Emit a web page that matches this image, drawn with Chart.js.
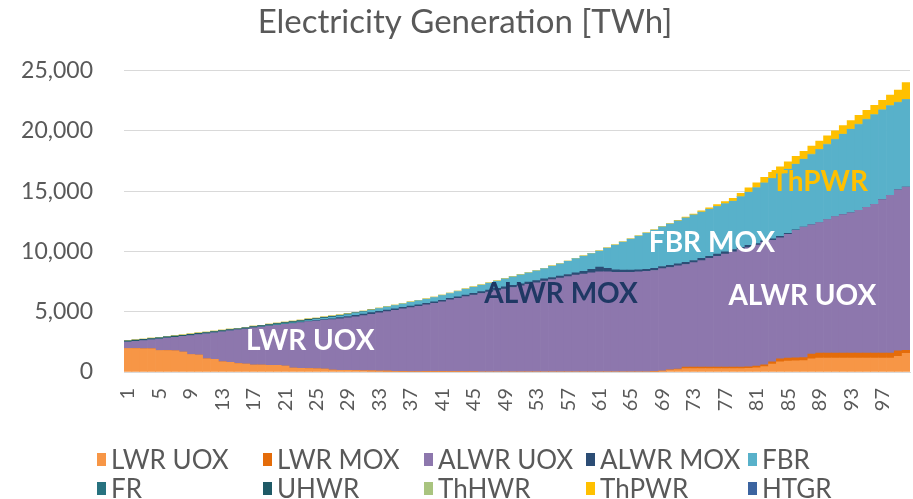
<!DOCTYPE html>
<html>
<head>
<meta charset="utf-8">
<title>Electricity Generation [TWh]</title>
<script src="https://cdn.jsdelivr.net/npm/chart.js@4.4.1/dist/chart.umd.min.js"></script>
<style>
    html, body { margin: 0; padding: 0; background: #fff; }
    #wrap { position: relative; width: 913px; height: 499px; }
    #legend { position: absolute; left: 0; top: 0; width: 913px; height: 499px; pointer-events: none;
              font-family: Lato, sans-serif; font-size: 26px; color: #595959; }
    .item { position: absolute; display: flex; align-items: center; white-space: nowrap; height: 30px; line-height: 30px; }
    .box { width: 9px; height: 13px; margin-right: 5px; }
</style>
</head>
<body>
<div id="wrap">
    <canvas id="genChart" width="913" height="499"></canvas>
    <div id="legend"></div>
</div>
<script>
// categories (years of the scenario)
var years = [
    '1', '2', '3', '4', '5', '6', '7', '8', '9', '10',
    '11', '12', '13', '14', '15', '16', '17', '18', '19', '20',
    '21', '22', '23', '24', '25', '26', '27', '28', '29', '30',
    '31', '32', '33', '34', '35', '36', '37', '38', '39', '40',
    '41', '42', '43', '44', '45', '46', '47', '48', '49', '50',
    '51', '52', '53', '54', '55', '56', '57', '58', '59', '60',
    '61', '62', '63', '64', '65', '66', '67', '68', '69', '70',
    '71', '72', '73', '74', '75', '76', '77', '78', '79', '80',
    '81', '82', '83', '84', '85', '86', '87', '88', '89', '90',
    '91', '92', '93', '94', '95', '96', '97', '98', '99', '100'
];

var yTicks = [0, 5000, 10000, 15000, 20000, 25000];

// generation per reactor type [TWh]
var lwrUox = [
    1950, 1940, 1930, 1920, 1780, 1770, 1760, 1650, 1450, 1400,
    1100, 1050, 850, 800, 700, 650, 580, 570, 560, 550,
    500, 320, 300, 280, 260, 240, 150, 140, 130, 120,
    100, 90, 80, 70, 60, 50, 45, 40, 35, 30,
    25, 20, 15, 10, 5, 0, 0, 0, 0, 0,
    0, 0, 0, 0, 0, 0, 0, 0, 0, 0,
    0, 0, 0, 0, 0, 0, 0, 20, 80, 150,
    200, 280, 280, 280, 280, 280, 280, 280, 280, 300,
    350, 450, 650, 850, 900, 920, 940, 1100, 1150, 1150,
    1150, 1150, 1150, 1150, 1150, 1150, 1150, 1150, 1300, 1550
];
var lwrMox = [
    0, 0, 0, 0, 0, 0, 0, 0, 0, 0,
    0, 0, 0, 0, 0, 0, 0, 0, 0, 0,
    0, 0, 0, 0, 0, 0, 0, 0, 0, 0,
    0, 0, 0, 0, 0, 0, 0, 0, 0, 0,
    0, 0, 0, 0, 0, 0, 0, 0, 0, 0,
    0, 0, 0, 0, 0, 0, 0, 0, 0, 0,
    0, 0, 0, 0, 0, 0, 0, 0, 0, 20,
    50, 120, 120, 120, 120, 120, 120, 120, 120, 130,
    150, 150, 200, 250, 250, 250, 250, 380, 420, 420,
    420, 420, 420, 420, 420, 420, 420, 420, 450, 240
];
var alwrUox = [
    530, 605, 670, 750, 960, 1040, 1120, 1300, 1570, 1700,
    2070, 2200, 2480, 2610, 2790, 2920, 3080, 3150, 3240, 3320,
    3450, 3700, 3800, 3900, 3970, 4060, 4200, 4280, 4360, 4460,
    4580, 4700, 4830, 4940, 5060, 5180, 5300, 5410, 5530, 5660,
    5800, 5960, 6100, 6240, 6380, 6510, 6630, 6750, 6880, 7010,
    7140, 7270, 7400, 7540, 7660, 7780, 7910, 8040, 8130, 8220,
    8300, 8300, 8260, 8270, 8270, 8300, 8340, 8400, 8490, 8500,
    8550, 8520, 8670, 8840, 9020, 9200, 9380, 9570, 9770, 9890,
    10030, 10150, 10080, 10030, 10270, 10580, 10840, 10720, 10830, 11080,
    11330, 11480, 11630, 11830, 12080, 12330, 12730, 13080, 13350, 13550
];
var alwrMox = [
    0, 0, 0, 0, 0, 0, 0, 0, 0, 0,
    0, 0, 0, 0, 0, 0, 0, 0, 0, 0,
    0, 0, 0, 0, 30, 50, 70, 90, 110, 130,
    130, 130, 130, 130, 130, 130, 130, 130, 130, 130,
    130, 130, 130, 140, 150, 160, 170, 180, 180, 180,
    180, 180, 180, 180, 180, 180, 180, 180, 230, 300,
    400, 300, 220, 180, 180, 180, 180, 180, 180, 180,
    180, 180, 180, 180, 180, 180, 180, 180, 180, 180,
    120, 120, 120, 120, 80, 50, 0, 0, 0, 0,
    0, 0, 0, 0, 0, 0, 0, 0, 0, 0
];
var fbr = [
    0, 0, 0, 0, 0, 0, 0, 0, 0, 0,
    0, 0, 0, 0, 0, 0, 0, 20, 30, 40,
    50, 60, 70, 85, 100, 115, 130, 145, 160, 175,
    190, 205, 220, 240, 260, 280, 300, 320, 340, 360,
    380, 400, 430, 460, 490, 520, 560, 600, 640, 680,
    720, 760, 800, 840, 920, 1000, 1080, 1160, 1230, 1280,
    1310, 1660, 2030, 2310, 2560, 2780, 2990, 3160, 3270, 3410,
    3530, 3660, 3760, 3830, 3890, 3940, 3980, 4000, 4170, 4400,
    4620, 4790, 4990, 5180, 5310, 5420, 5600, 5840, 6050, 6220,
    6380, 6660, 6920, 7130, 7290, 7440, 7430, 7430, 7250, 7250
];
var fr = [];
var uhwr = [
    100, 100, 100, 100, 100, 100, 100, 100, 100, 100,
    100, 100, 100, 100, 100, 100, 100, 100, 100, 100,
    100, 100, 100, 100, 80, 70, 60, 50, 40, 30,
    20, 10
];
var thhwr = [
    20, 25, 40, 40, 40, 40, 40, 40, 40, 40,
    40, 40, 40, 40, 40, 40, 40, 40, 40, 40,
    40, 40, 40, 40, 40, 40, 40, 40, 40, 40,
    40, 40, 40, 40, 40, 40, 40, 40, 40, 40,
    40, 40, 40, 40, 40, 40, 40, 40, 40, 40,
    40, 40, 40, 40, 40, 40, 40, 40, 40, 40,
    40, 40, 40, 40, 40, 40, 40, 40, 40, 30,
    30, 30, 30, 30, 30, 30, 30, 30, 30, 30,
    30, 30, 30, 30, 30, 30, 30, 30, 30, 30,
    30, 30, 30, 30, 30, 30, 30, 30, 30, 30
];
var thpwr = [
    0, 0, 0, 0, 0, 0, 0, 0, 0, 0,
    0, 0, 0, 0, 0, 0, 0, 0, 0, 0,
    0, 0, 0, 0, 0, 0, 0, 0, 0, 0,
    0, 0, 0, 0, 0, 0, 0, 0, 0, 0,
    0, 0, 0, 0, 0, 0, 0, 0, 0, 0,
    0, 0, 0, 0, 0, 0, 0, 0, 0, 0,
    0, 0, 0, 0, 0, 0, 0, 0, 0, 30,
    40, 50, 60, 80, 100, 130, 170, 220, 280, 340,
    400, 450, 500, 550, 600, 630, 650, 670, 680, 690,
    700, 700, 710, 720, 730, 750, 780, 850, 1000, 1380
];
var htgr = [];

var seriesNames = ['LWR UOX', 'LWR MOX', 'ALWR UOX', 'ALWR MOX', 'FBR', 'FR', 'UHWR', 'ThHWR', 'ThPWR', 'HTGR'];
var seriesData = [lwrUox, lwrMox, alwrUox, alwrMox, fbr, fr, uhwr, thhwr, thpwr, htgr];
var seriesColors = ['#F79646', '#E46C0A', '#8D77AD', '#2C4D75', '#58B1CA', '#27727F', '#1F5A66', '#A9C47F', '#FFC000', '#3C64A0'];

// text written over the areas
var areaLabels = ['LWR UOX', 'ALWR MOX', 'FBR MOX', 'ALWR UOX', 'ThPWR'];
var areaLabelAt = [23.2, 55.1, 74.3, 85.8, 88.0];
var areaLabelValue = [2590, 6470, 10690, 6300, 15800];
var areaLabelColors = ['#FFFFFF', '#1F3864', '#FFFFFF', '#FFFFFF', '#FFC000'];

var textColor = '#595959';
var fontFamily = 'Lato, sans-serif';

var areaLabelPlugin = {
    id: 'areaLabels',
    afterDatasetsDraw: function (chart) {
        var ctx = chart.ctx;
        var xs = chart.scales.x;
        var ys = chart.scales.y;
        ctx.save();
        ctx.font = 'bold 28px ' + fontFamily;
        ctx.textAlign = 'center';
        ctx.textBaseline = 'middle';
        for (var i = 0; i < areaLabels.length; i++) {
            ctx.fillStyle = areaLabelColors[i];
            ctx.fillText(areaLabels[i], xs.getPixelForValue(areaLabelAt[i]), ys.getPixelForValue(areaLabelValue[i]));
        }
        ctx.restore();
    }
};

var datasets = [];
for (var i = 0; i < seriesNames.length; i++) {
    datasets.push({
        label: seriesNames[i],
        data: seriesData[i],
        backgroundColor: seriesColors[i],
        borderWidth: 0,
        barPercentage: 1,
        categoryPercentage: 1
    });
}

new Chart(document.getElementById('genChart'), {
    type: 'bar',
    data: { labels: years, datasets: datasets },
    options: {
        responsive: false,
        animation: false,
        layout: { padding: { left: 20, right: 3, top: 0, bottom: 67 } },
        plugins: {
            legend: { display: false },
            tooltip: { enabled: false },
            title: {
                display: true,
                text: 'Electricity Generation [TWh]',
                color: textColor,
                font: { family: fontFamily, size: 33, weight: 'normal' },
                padding: { top: 3, bottom: 28 }
            }
        },
        scales: {
            x: {
                stacked: true,
                grid: { display: false, drawTicks: false },
                border: { display: true, color: '#D9D9D9' },
                ticks: {
                    autoSkip: false,
                    minRotation: 90,
                    maxRotation: 90,
                    padding: 16,
                    color: textColor,
                    font: { family: fontFamily, size: 20 },
                    callback: function (v, idx) {
                        return idx % 4 === 0 ? this.getLabelForValue(v) : '';
                    }
                },
                afterFit: function (s) {
                    s.height = 60;
                    s.paddingLeft = 0;
                    s.paddingRight = 0;
                }
            },
            y: {
                stacked: true,
                min: 0,
                max: 25000,
                grid: { color: '#D9D9D9', drawTicks: false },
                border: { display: false },
                afterBuildTicks: function (s) {
                    s.ticks = yTicks.map(function (v) { return { value: v }; });
                },
                ticks: {
                    padding: 31,
                    color: textColor,
                    font: { family: fontFamily, size: 23 },
                    callback: function (v) { return v.toLocaleString('en-US'); }
                },
                afterFit: function (s) { s.width = 104; }
            }
        }
    },
    plugins: [areaLabelPlugin]
});

// legend laid out in a 5 x 2 grid like the original
var legendCols = [97, 263, 424, 586, 748];
var legendRows = [444, 473];
var legend = document.getElementById('legend');
for (var k = 0; k < seriesNames.length; k++) {
    var item = document.createElement('div');
    item.className = 'item';
    item.style.left = legendCols[k % 5] + 'px';
    item.style.top = legendRows[Math.floor(k / 5)] + 'px';
    var box = document.createElement('span');
    box.className = 'box';
    box.style.background = seriesColors[k];
    var txt = document.createElement('span');
    txt.textContent = seriesNames[k];
    item.appendChild(box);
    item.appendChild(txt);
    legend.appendChild(item);
}
</script>
</body>
</html>
